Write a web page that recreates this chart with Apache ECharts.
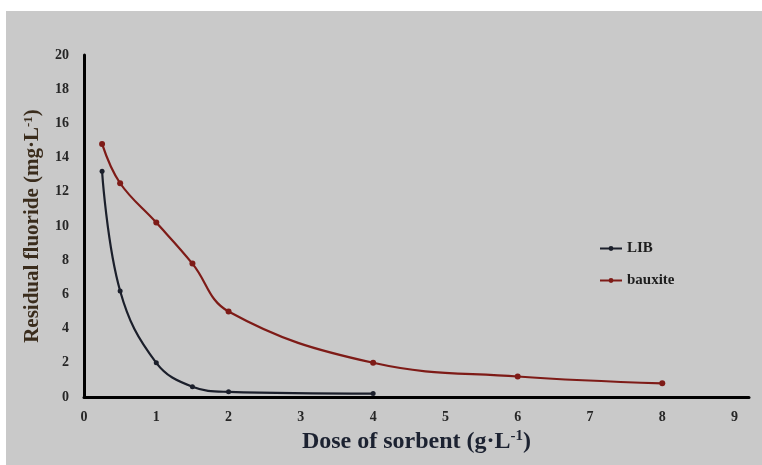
<!DOCTYPE html>
<html>
<head>
<meta charset="utf-8">
<script src="https://cdn.jsdelivr.net/npm/echarts@6/dist/echarts.min.js"></script>
<style>
  html, body { margin: 0; padding: 0; background: #ffffff; }
  #chart { position: absolute; left: 6px; top: 11px; width: 756px; height: 454px; background: #c9c9c9; }
</style>
</head>
<body>
<div id="chart"></div>
<script>
// dose of sorbent (g/L) and residual fluoride (mg/L)
var libDose = [0.25, 0.5, 1, 1.5, 2, 4];
var libResidual = [13.2, 6.2, 2.0, 0.6, 0.3, 0.2];
var bauxiteDose = [0.25, 0.5, 1, 1.5, 2, 4, 6, 8];
var bauxiteResidual = [14.8, 12.5, 10.2, 7.8, 5.0, 2.0, 1.2, 0.8];
var seriesNames = ['LIB', 'bauxite'];

function pairs(xs, ys) {
  var out = [];
  for (var i = 0; i < xs.length; i++) out.push([xs[i], ys[i]]);
  return out;
}

var serif = '"Liberation Serif", "DejaVu Serif", serif';
var chart = echarts.init(document.getElementById('chart'));

chart.setOption({
  backgroundColor: '#c9c9c9',
  animation: false,
  grid: { left: 78, top: 44, right: 13, bottom: 68 },
  legend: {
    orient: 'vertical',
    left: 588,
    top: 225,
    itemGap: 17,
    itemWidth: 22,
    itemHeight: 6,
    data: seriesNames,
    textStyle: { fontFamily: serif, fontWeight: 'bold', fontSize: 15, color: '#1e1e1e' }
  },
  xAxis: {
    type: 'value',
    min: 0, max: 9.2, interval: 1,
    name: 'Dose of sorbent (g·L{sup|-1})',
    nameLocation: 'middle',
    nameGap: 28,
    nameTextStyle: {
      fontFamily: serif, fontWeight: 'bold', fontSize: 24, color: '#1c2231',
      rich: { sup: { fontFamily: serif, fontWeight: 'bold', fontSize: 15, color: '#1c2231', verticalAlign: 'top', padding: [0, 0, 10, 0] } }
    },
    axisLine: { show: true, onZero: false, lineStyle: { color: '#000', width: 3 } },
    axisTick: { show: false },
    splitLine: { show: false },
    axisLabel: {
      margin: 13, showMaxLabel: false,
      fontFamily: serif, fontWeight: 'bold', fontSize: 14, color: '#262626'
    }
  },
  yAxis: {
    type: 'value',
    min: 0, max: 20, interval: 2,
    name: 'Residual fluoride (mg·L{sup|-1})',
    nameLocation: 'middle',
    nameGap: 40,
    nameTextStyle: {
      fontFamily: serif, fontWeight: 'bold', fontSize: 21, color: '#3a2c1c',
      rich: { sup: { fontFamily: serif, fontWeight: 'bold', fontSize: 13, color: '#3a2c1c', verticalAlign: 'top', padding: [0, 0, 9, 0] } }
    },
    axisLine: { show: true, lineStyle: { color: '#000', width: 3 } },
    axisTick: { show: false },
    splitLine: { show: false },
    axisLabel: {
      margin: 15,
      fontFamily: serif, fontWeight: 'bold', fontSize: 14, color: '#262626'
    }
  },
  series: [
    {
      name: seriesNames[0],
      type: 'line',
      smooth: 0.4,
      data: pairs(libDose, libResidual),
      symbol: 'circle',
      symbolSize: 5,
      lineStyle: { color: '#1b1f2b', width: 2.2 },
      itemStyle: { color: '#1b1f2b' }
    },
    {
      name: seriesNames[1],
      type: 'line',
      smooth: 0.4,
      data: pairs(bauxiteDose, bauxiteResidual),
      symbol: 'circle',
      symbolSize: 6,
      lineStyle: { color: '#7e1b17', width: 2.2 },
      itemStyle: { color: '#7e1b17' }
    }
  ]
});
</script>
</body>
</html>
